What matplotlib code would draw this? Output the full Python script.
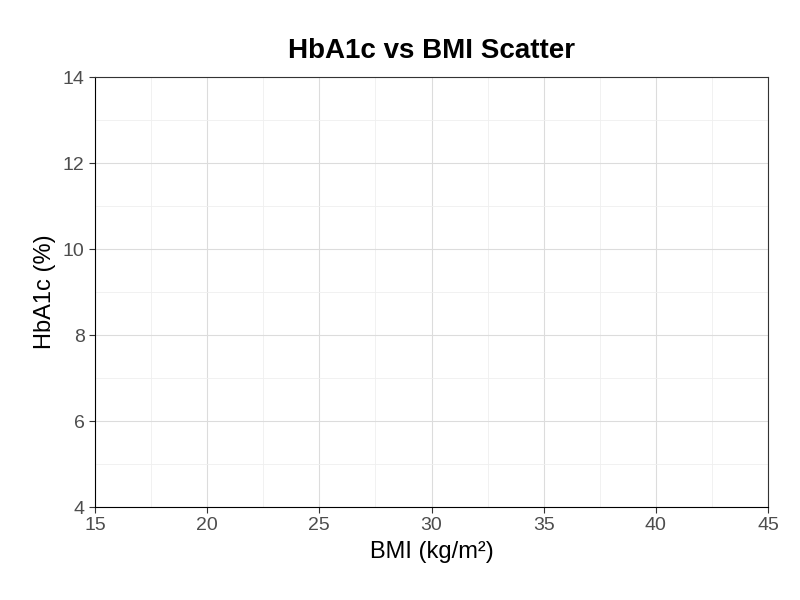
import matplotlib
matplotlib.use('Agg')
import matplotlib.pyplot as plt

plt.rcParams['font.family'] = ['Liberation Sans', 'DejaVu Sans']

# the reference shows no points
bmi = []
hba1c = []

fig = plt.figure(figsize=(8, 6), dpi=100)
ax = fig.add_axes([95/800, 1-507/600, (768-95)/800, (507-77)/600])
ax.scatter(bmi, hba1c)
ax.set_xlim(15, 45)
ax.set_ylim(4, 14)
ax.set_xticks(range(15, 46, 5))
ax.set_yticks(range(4, 15, 2))
ax.set_xticks([x + 2.5 for x in range(15, 45, 5)], minor=True)
ax.set_yticks([y + 1 for y in range(4, 14, 2)], minor=True)
ax.grid(which='major', color='#dcdcdc', linewidth=0.8)
ax.grid(which='minor', color='#efefef', linewidth=0.6)
ax.set_axisbelow(True)
for s in ax.spines.values():
    s.set_color('#333333')
    s.set_linewidth(0.8)
ax.spines['left'].set_color('black')
ax.spines['bottom'].set_color('black')
ax.tick_params(which='major', labelsize=14, colors='#4d4d4d', length=4)
ax.tick_params(which='major', color='#333333')
ax.tick_params(which='minor', length=0)
ax.set_xlabel('BMI (kg/m²)', fontsize=17, labelpad=5)
ax.set_ylabel('HbA1c (%)', fontsize=17, labelpad=5)
ax.set_title('HbA1c vs BMI Scatter', fontsize=20, fontweight='bold', pad=14)
fig.savefig('out.png')
